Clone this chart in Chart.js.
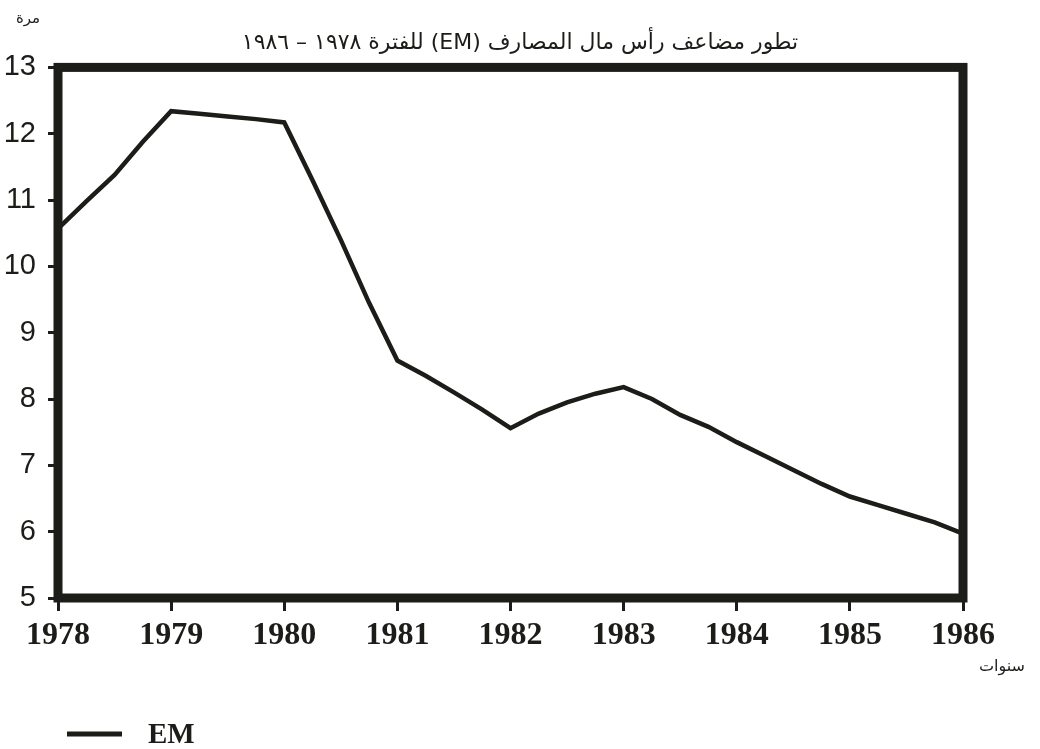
<!DOCTYPE html>
<html>
<head>
<meta charset="utf-8">
<script src="https://cdn.jsdelivr.net/npm/chart.js@4.4.0/dist/chart.umd.min.js"></script>
<style>
  html, body { margin: 0; padding: 0; background: #fff; }
</style>
</head>
<body>
<canvas id="em-chart" width="1040" height="749" dir="rtl"></canvas>
<script>
// Data (quarterly)
let years = [1978, 1978.25, 1978.5, 1978.75, 1979, 1979.25, 1979.5, 1979.75, 1980,
             1980.25, 1980.5, 1980.75, 1981, 1981.25, 1981.5, 1981.75, 1982,
             1982.25, 1982.5, 1982.75, 1983, 1983.25, 1983.5, 1983.75, 1984,
             1984.25, 1984.5, 1984.75, 1985, 1985.25, 1985.5, 1985.75, 1986];
let emValues = [10.57, 10.98, 11.38, 11.88, 12.34, 12.30, 12.26, 12.22, 12.17,
                11.30, 10.40, 9.45, 8.58, 8.35, 8.10, 7.84, 7.56,
                7.78, 7.95, 8.08, 8.18, 8.00, 7.76, 7.58, 7.35,
                7.14, 6.93, 6.72, 6.53, 6.40, 6.27, 6.14, 5.97];
let yearTicks = [1978, 1979, 1980, 1981, 1982, 1983, 1984, 1985, 1986];
let valueTicks = [5, 6, 7, 8, 9, 10, 11, 12, 13];

let chartTitle = 'تطور مضاعف رأس مال المصارف (EM) للفترة ١٩٧٨ – ١٩٨٦';
let yUnit = 'مرة';
let xUnit = 'سنوات';

let ink = '#1c1c18';

// thick frame round the plot
let framePlugin = {
    id: 'frame',
    afterDatasetsDraw(chart) {
        let a = chart.chartArea;
        let c = chart.ctx;
        c.save();
        c.strokeStyle = ink;
        c.lineWidth = 9;
        c.strokeRect(a.left, a.top, a.right - a.left, a.bottom - a.top);
        c.restore();
    }
};

// unit labels + legend line
let extrasPlugin = {
    id: 'extras',
    afterDraw(chart) {
        let c = chart.ctx;
        c.save();
        c.fillStyle = ink;
        c.font = '15px "DejaVu Sans"';
        c.textAlign = 'center';
        c.textBaseline = 'middle';
        c.fillText(yUnit, 28, 19);
        c.font = '16px "DejaVu Sans"';
        c.fillText(xUnit, 1002, 667);

        let ds = chart.data.datasets[0];
        c.strokeStyle = ds.borderColor;
        c.lineWidth = 5;
        c.beginPath();
        c.moveTo(67, 734);
        c.lineTo(122, 734);
        c.stroke();
        c.font = 'bold 29px "Liberation Serif"';
        c.textAlign = 'left';
        c.direction = 'ltr';
        c.textBaseline = 'alphabetic';
        c.fillText(ds.label, 148, 743);
        c.restore();
    }
};

let ctx = document.getElementById('em-chart').getContext('2d');

let emChart = new Chart(ctx, {
    type: 'line',
    data: {
        datasets: [{
            label: 'EM',
            data: years.map((x, i) => ({ x: x, y: emValues[i] })),
            borderColor: ink,
            backgroundColor: ink,
            borderWidth: 4.5,
            pointRadius: 0,
            tension: 0,
            fill: false
        }]
    },
    options: {
        responsive: false,
        animation: false,
        devicePixelRatio: 1,
        layout: { padding: { top: 0, left: 0, right: 0, bottom: 60 } },
        scales: {
            x: {
                type: 'linear',
                min: 1978,
                max: 1986,
                afterBuildTicks: (s) => { s.ticks = yearTicks.map(v => ({ value: v })); },
                afterFit: (s) => { s.height = 91; },
                grid: { drawOnChartArea: false, tickLength: 13, tickWidth: 3, tickColor: ink },
                border: { display: false },
                ticks: {
                    callback: (v) => String(v),
                    padding: 6,
                    maxRotation: 0,
                    color: ink,
                    font: { family: 'Liberation Serif', size: 32, weight: 'bold' }
                }
            },
            y: {
                min: 5,
                max: 13,
                afterBuildTicks: (s) => { s.ticks = valueTicks.map(v => ({ value: v })); },
                afterFit: (s) => { s.width = 58; },
                grid: { drawOnChartArea: false, tickLength: 10, tickWidth: 3, tickColor: ink },
                border: { display: false },
                ticks: {
                    padding: 12,
                    color: ink,
                    font: { family: 'Liberation Sans', size: 29 }
                }
            },
            // empty right-hand spacer so the title stays centred on the page
            yRight: {
                position: 'right',
                min: 5,
                max: 13,
                afterFit: (s) => { s.width = 77; },
                grid: { display: false },
                border: { display: false },
                ticks: { display: false }
            }
        },
        plugins: {
            legend: { display: false },
            tooltip: { enabled: false },
            title: {
                display: true,
                text: chartTitle,
                color: ink,
                font: { family: 'DejaVu Sans', size: 22, weight: 'normal' },
                padding: { top: 30, bottom: 11 }
            }
        }
    },
    plugins: [framePlugin, extrasPlugin]
});
</script>
</body>
</html>
